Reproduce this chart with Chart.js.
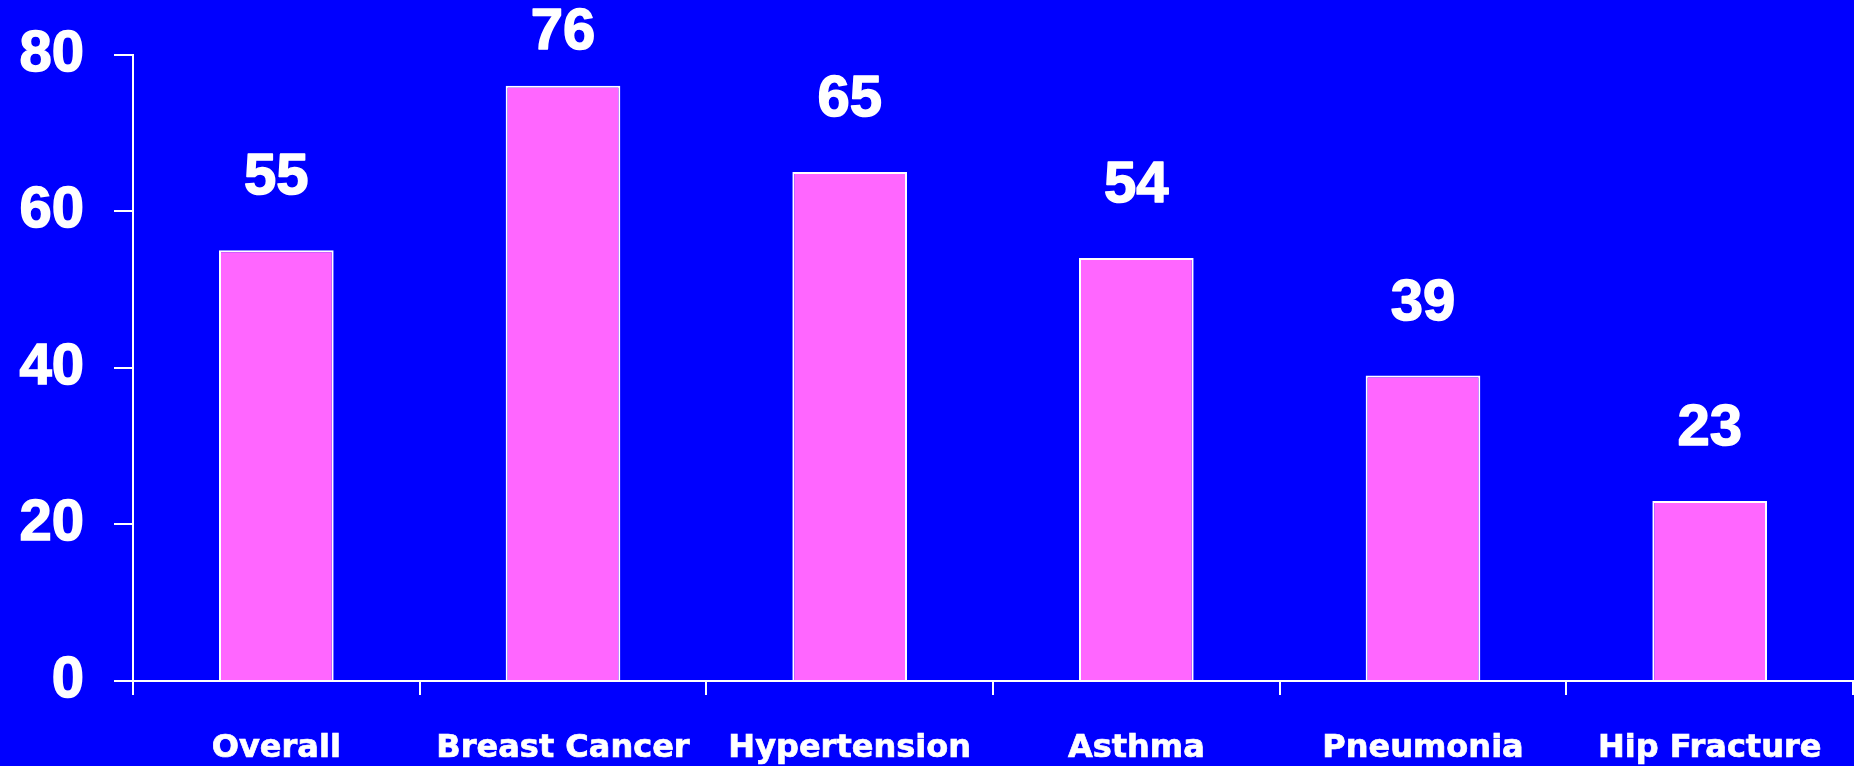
<!DOCTYPE html>
<html>
<head>
<meta charset="utf-8">
<script src="https://cdn.jsdelivr.net/npm/chart.js@4/dist/chart.umd.min.js"></script>
<style>
  html, body { margin: 0; padding: 0; background: #0000FF; }
  #wrap { width: 1854px; height: 766px; position: relative; }
</style>
</head>
<body>
<div id="wrap"><canvas id="c" width="1854" height="766"></canvas></div>
<script>
const categories = ["Overall", "Breast Cancer", "Hypertension", "Asthma", "Pneumonia", "Hip Fracture"];
const values = [55, 76, 65, 54, 39, 23];
const yTicks = [0, 20, 40, 60, 80];

const numFont = { family: "'Liberation Sans', Arial, sans-serif", size: 58, weight: "bold" };
const catFont = { family: "'DejaVu Sans', sans-serif", size: 32, weight: "bold" };

const valueLabels = {
  id: "valueLabels",
  afterDatasetsDraw(chart) {
    const ctx = chart.ctx;
    const meta = chart.getDatasetMeta(0);
    ctx.save();
    ctx.fillStyle = "#FFFFFF";
    ctx.strokeStyle = "#FFFFFF";
    ctx.lineWidth = 1.5;
    ctx.lineJoin = "round";
    ctx.font = `bold ${numFont.size}px ${numFont.family}`;
    ctx.textAlign = "center";
    ctx.textBaseline = "middle";
    meta.data.forEach((bar, i) => {
      const y = Math.max(bar.y - 72, 33);
      ctx.strokeText(String(values[i]), bar.x, y);
      ctx.fillText(String(values[i]), bar.x, y);
    });
    ctx.restore();
  }
};

new Chart(document.getElementById("c"), {
  type: "bar",
  data: {
    labels: categories,
    datasets: [{
      data: values,
      backgroundColor: "#FF66FF",
      borderColor: "#FFFFFF",
      borderWidth: 2,
      borderSkipped: "start",
      barPercentage: 0.4,
      categoryPercentage: 1.0
    }]
  },
  options: {
    responsive: false,
    animation: false,
    layout: { padding: { top: 54.5, right: 1, left: 0, bottom: 0 } },
    plugins: { legend: { display: false }, tooltip: { enabled: false } },
    scales: {
      x: {
        offset: true,
        grid: {
          display: true,
          offset: true,
          drawOnChartArea: false,
          drawTicks: true,
          tickLength: 14,
          color: "#FFFFFF",
          lineWidth: 2
        },
        border: { display: true, color: "#FFFFFF", width: 2 },
        ticks: { color: "#FFFFFF", font: catFont, padding: 34, maxRotation: 0, autoSkip: false,
                 textStrokeColor: "#FFFFFF", textStrokeWidth: 0.7 },
        afterFit(scale) { scale.height = 85; scale.paddingLeft = 0; scale.paddingRight = 0; }
      },
      y: {
        min: 0,
        max: 80,
        afterBuildTicks(scale) { scale.ticks = yTicks.map(v => ({ value: v })); },
        grid: {
          display: true,
          drawOnChartArea: false,
          drawTicks: true,
          tickLength: 19,
          color: "#FFFFFF",
          lineWidth: 2
        },
        border: { display: true, color: "#FFFFFF", width: 2 },
        ticks: { color: "#FFFFFF", font: numFont, padding: 30,
                 textStrokeColor: "#FFFFFF", textStrokeWidth: 1.5 },
        afterFit(scale) { scale.width = 133; scale.paddingTop = 0; scale.paddingBottom = 0; }
      }
    }
  },
  plugins: [valueLabels]
});
</script>
</body>
</html>
